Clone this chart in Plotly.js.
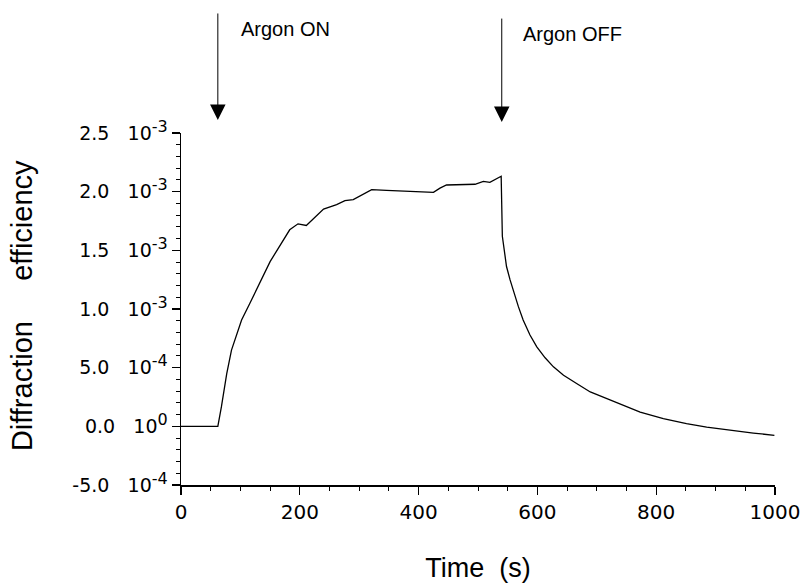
<!DOCTYPE html>
<html>
<head>
<meta charset="utf-8">
<script src="https://cdn.plot.ly/plotly-3.0.1.min.js"></script>
<style>
  html, body { margin: 0; padding: 0; background: #fff; }
  #chart { width: 803px; height: 586px; }
</style>
</head>
<body>
<div id="chart"></div>
<script>
// Time (s)
const time = [0, 62, 68, 77, 85, 102, 116, 133, 150, 183, 197, 211, 240, 262, 276, 290, 307, 321, 346, 425, 436, 447, 495, 509, 520, 539,
              541, 545.5, 548, 554, 559, 568, 576, 587.5, 599, 613, 627, 644, 666, 689, 717, 745, 773, 812, 851, 885, 924, 963.5, 999];
// Diffraction efficiency
const efficiency = [0, 0, 0.165e-3, 0.45e-3, 0.65e-3, 0.906e-3, 1.049e-3, 1.233e-3, 1.404e-3, 1.675e-3, 1.726e-3, 1.712e-3, 1.852e-3, 1.889e-3,
                    1.923e-3, 1.932e-3, 1.98e-3, 2.017e-3, 2.011e-3, 1.994e-3, 2.03e-3, 2.057e-3, 2.063e-3, 2.088e-3, 2.08e-3, 2.131e-3,
                    1.62e-3, 1.476e-3, 1.362e-3, 1.248e-3, 1.162e-3, 1.02e-3, 0.906e-3, 0.778e-3, 0.678e-3, 0.584e-3, 0.507e-3, 0.436e-3,
                    0.365e-3, 0.293e-3, 0.237e-3, 0.179e-3, 0.122e-3, 0.066e-3, 0.023e-3, -0.006e-3, -0.034e-3, -0.057e-3, -0.077e-3];

const xTickVals = [0, 200, 400, 600, 800, 1000];
const xTickText = ['0', '200', '400', '600', '800', '1000'];
const yTickVals = [-5e-4, 0, 5e-4, 1e-3, 1.5e-3, 2e-3, 2.5e-3];
const yMantissa = ['-5.0', '0.0', '5.0', '1.0', '1.5', '2.0', '2.5'];
const yExponent = ['-4', '0', '-4', '-3', '-3', '-3', '-3'];
const yTickText = yMantissa.map((m, i) =>
  m + '   10<span style="font-size:16px;baseline-shift:8px">' + yExponent[i] + '</span>');

const eventTimes = [62, 540];
const eventLabels = ['Argon ON', 'Argon OFF'];
const xTitle = 'Time  (s)';
const yTitle = 'Diffraction     efficiency';

const FONT = 'Liberation Sans, Arial, Helvetica, sans-serif';
const TICKFONT = 'DejaVu Sans, Liberation Sans, sans-serif';

const trace = {
  x: time, y: efficiency, type: 'scatter', mode: 'lines',
  line: { color: '#000', width: 1.3 },
  hoverinfo: 'skip'
};

const layout = {
  width: 803, height: 586, autosize: false,
  margin: { l: 181, r: 28, t: 133, b: 101 },
  paper_bgcolor: '#fff', plot_bgcolor: '#fff',
  showlegend: false,
  font: { family: FONT, color: '#000' },
  xaxis: {
    range: [0, 1000], tickmode: 'array', tickvals: xTickVals, ticktext: xTickText,
    ticks: 'outside', ticklen: 8, tickwidth: 1.2, tickcolor: '#000',
    minor: { dtick: 50, tick0: 0, ticks: 'outside', ticklen: 4, tickwidth: 1, tickcolor: '#000', showgrid: false },
    showline: true, linecolor: '#000', linewidth: 1.5,
    showgrid: false, zeroline: false, ticklabeloverflow: 'allow',
    tickfont: { family: TICKFONT, size: 20, color: '#000' },
    title: { text: xTitle, font: { family: FONT, size: 27, color: '#000' } }
  },
  yaxis: {
    range: [-5e-4, 2.5e-3], tickmode: 'array', tickvals: yTickVals, ticktext: yTickText,
    ticks: 'outside', ticklen: 8, tickwidth: 1.2, tickcolor: '#000',
    minor: { dtick: 1e-4, tick0: 0, ticks: 'outside', ticklen: 4, tickwidth: 1, tickcolor: '#000', showgrid: false },
    showline: true, linecolor: '#000', linewidth: 1.5,
    showgrid: false, zeroline: false, ticklabeloverflow: 'allow',
    tickfont: { family: TICKFONT, size: 19, color: '#000' }
  },
  annotations: [
    { x: -0.2677, y: 0.511, xref: 'paper', yref: 'paper', text: yTitle, textangle: -90, showarrow: false,
      xanchor: 'center', yanchor: 'middle', font: { family: FONT, size: 29, color: '#000' } },
    { x: eventTimes[0], y: 1.037, xref: 'x', yref: 'paper', text: '', showarrow: true,
      ax: 0, ay: -108, arrowhead: 2, arrowsize: 3.1, arrowwidth: 1, arrowcolor: '#000' },
    { x: eventTimes[1], y: 1.031, xref: 'x', yref: 'paper', text: '', showarrow: true,
      ax: 0, ay: -105, arrowhead: 2, arrowsize: 3.1, arrowwidth: 1, arrowcolor: '#000' },
    { x: 97, y: 1.2955, xref: 'x', yref: 'paper', text: eventLabels[0], showarrow: false,
      xanchor: 'left', yanchor: 'middle', font: { family: FONT, size: 20, color: '#000' } },
    { x: 572, y: 1.281, xref: 'x', yref: 'paper', text: eventLabels[1], showarrow: false,
      xanchor: 'left', yanchor: 'middle', font: { family: FONT, size: 20, color: '#000' } }
  ]
};

Plotly.newPlot('chart', [trace], layout, { staticPlot: true, displayModeBar: false });
</script>
</body>
</html>
